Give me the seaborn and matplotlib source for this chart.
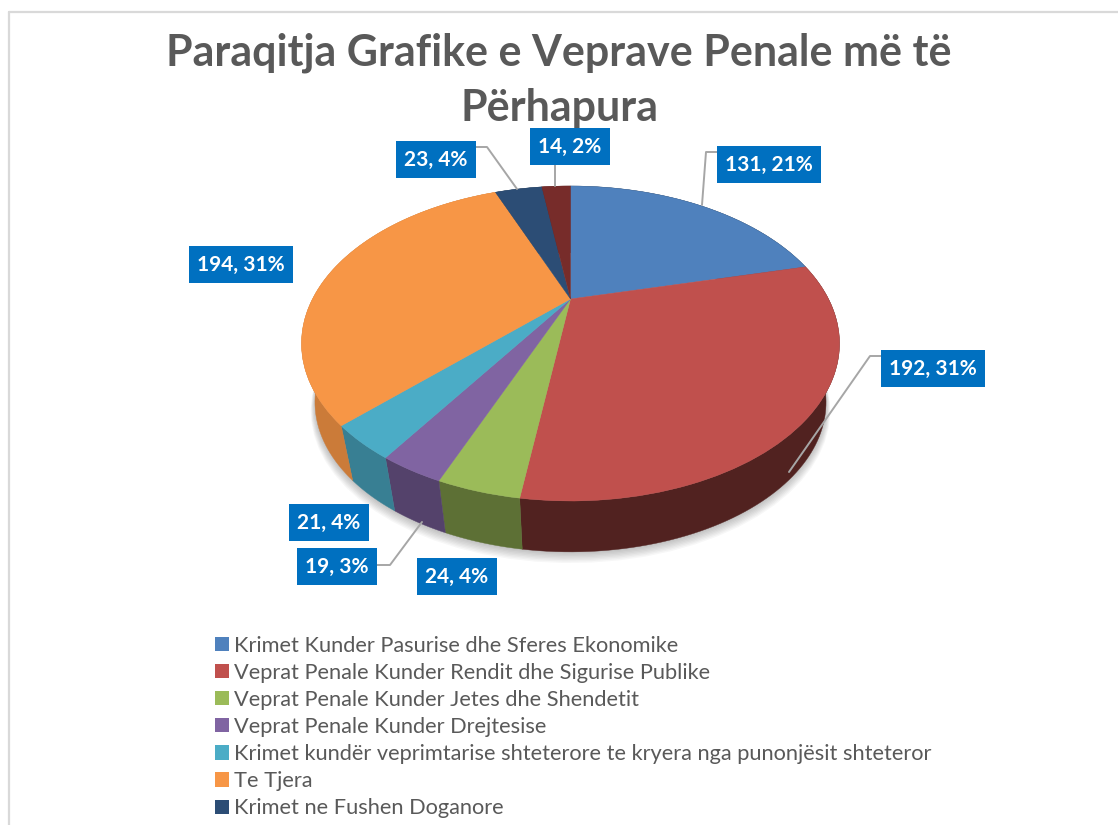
import numpy as np
import matplotlib
matplotlib.use('Agg')
import matplotlib.pyplot as plt
import seaborn as sns
from matplotlib.patches import Patch, Rectangle
from matplotlib.transforms import Transform

title = 'Paraqitja Grafike e Veprave Penale më të\nPërhapura'
categories = ['Krimet Kunder Pasurise dhe Sferes Ekonomike',
              'Veprat Penale Kunder Rendit dhe Sigurise Publike',
              'Veprat Penale Kunder Jetes dhe Shendetit',
              'Veprat Penale Kunder Drejtesise',
              'Krimet kundër veprimtarise shteterore te kryera nga punonjësit shteteror',
              'Te Tjera',
              'Krimet ne Fushen Doganore']
values = [131, 192, 24, 19, 21, 194, 23, 14]
percents = [21, 31, 4, 3, 4, 31, 4, 2]

colors = ['#4F81BD', '#C0504D', '#9BBB59', '#8064A2',
          '#4BACC6', '#F79646', '#2C4D75', '#772C2A']
side_shade = [0.40, 0.42, 0.60, 0.66, 0.74, 0.82, 0.6, 0.6]

# label box left, top, width, height in pixels
label_boxes = [(717, 146, 104, 37), (881, 350, 104, 37), (417, 558, 80, 37),
               (297, 548, 80, 37), (289, 504, 80, 37), (189, 246, 104, 37),
               (396, 141, 80, 37), (530, 128, 80, 37)]
leaders = [([717, 706, 702], [152, 152, 205]),
           ([881, 870, 789], [356, 356, 472]),
           ([377, 390, 422], [565, 565, 522]),
           ([476, 487, 517], [147, 147, 189]),
           ([555, 555], [165, 186])]


#%%
class DiskView(Transform):
    '''Perspective view of the unit disk, the chart's 3D tilt'''
    input_dims = 2
    output_dims = 2

    def __init__(self, apex_y = 299, scale = 1.0):
        super().__init__()
        self.apex_y = apex_y
        self.scale = scale

    def transform_non_affine(self, values):
        x, y = np.asarray(values).T
        depth = 1 + 0.2826 * y
        return np.column_stack((570.5 + self.scale * 258 * x / depth,
                                self.apex_y - self.scale * 144.9 * y / depth))


def circle(theta1, theta2):
    angles = np.radians(np.linspace(theta1, theta2, 80))
    return np.column_stack((np.cos(angles), np.sin(angles)))


#%%
def draw_pie(ax):
    palette = sns.color_palette(colors)
    wedges, _ = ax.pie(values, colors = palette, startangle = 90, counterclock = False,
                       wedgeprops = {'zorder': 3, 'linewidth': 0.3})
    top = DiskView()
    bottom = DiskView(apex_y = 360, scale = 0.95)

    for wedge, color in zip(wedges, palette):
        wedge.set_edgecolor(color)
        wedge.set_transform(top + ax.transData)

    # soft shadow below the rim
    ring = circle(0, 360)
    for shift in range(1, 9):
        pts = DiskView(apex_y = 360 + shift, scale = 0.95 + shift * 0.002).transform(ring)
        ax.fill(pts[:, 0], pts[:, 1], color = 'black', alpha = 0.03, lw = 0, zorder = 1)

    # side walls
    for wedge, color, shade in zip(wedges, palette, side_shade):
        rim = circle(wedge.theta1, wedge.theta2)
        pts = np.vstack((top.transform(rim), bottom.transform(rim)[::-1]))
        dark = [c * shade for c in color]
        ax.fill(pts[:, 0], pts[:, 1], color = dark, lw = 0.3, zorder = 2)
    return palette


def draw_labels(ax):
    for xs, ys in leaders:
        ax.plot(xs, ys, color = '#A6A6A6', lw = 1.4, zorder = 5)
    for value, percent, (x, y, w, h) in zip(values, percents, label_boxes):
        ax.add_patch(Rectangle((x, y), w, h, facecolor = '#0070C0', lw = 0, zorder = 6))
        ax.text(x + w / 2, y + h / 2, f'{value}, {percent}%', color = 'white', fontsize = 15,
                fontweight = 'bold', ha = 'center', va = 'center', zorder = 7)


def main():
    sns.set_theme(style = 'white')
    plt.rcParams['font.family'] = ['Lato', 'DejaVu Sans']

    fig = plt.figure(figsize = (11.18, 8.25), dpi = 100)
    ax = fig.add_axes([0, 0, 1, 1])
    palette = draw_pie(ax)
    draw_labels(ax)

    ax.set_aspect('auto')
    ax.set_xlim(0, 1118)
    ax.set_ylim(825, 0)
    ax.set_axis_off()

    # thin chart frame, cut by the page on the right and at the bottom
    ax.axhline(12, xmin = 9 / 1118, color = '#D9D9D9', lw = 1.6)
    ax.axvline(9, ymax = 1 - 12 / 825, color = '#D9D9D9', lw = 1.6)

    ax.text(559, 80, title, color = '#595959', fontsize = 31, fontweight = 'bold',
            ha = 'center', va = 'center', linespacing = 1.45)

    handles = [Patch(facecolor = c, lw = 0) for c in palette[:len(categories)]]
    ax.legend(handles, categories, loc = 'upper left', bbox_to_anchor = (215 / 1118, 1 - 635.5 / 825),
              frameon = False, fontsize = 15.7, labelcolor = '#595959', borderpad = 0, borderaxespad = 0,
              handlelength = 0.64, handleheight = 0.64, handletextpad = 0.23, labelspacing = 0.328)

    plt.savefig('out.png', dpi = 100)


if __name__ == '__main__':
    main()
